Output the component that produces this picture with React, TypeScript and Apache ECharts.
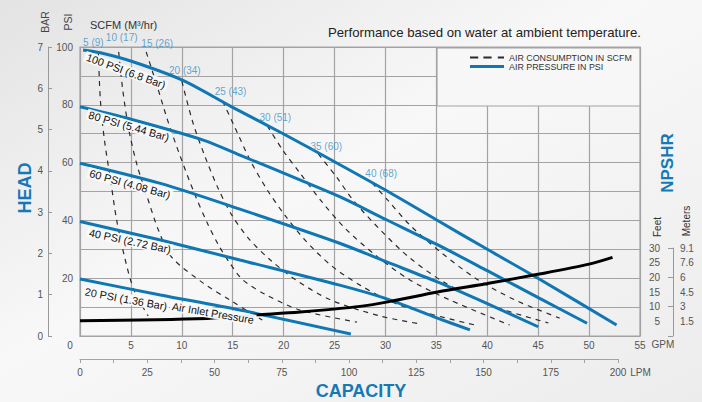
import React, { useEffect, useRef } from 'react';
import * as echarts from 'echarts';

// ---- Data (GPM, PSI) ----
const psi100 = [[0.3, 99.0], [2.0, 98.0], [5.2, 94.9], [10.0, 88.6], [14.9, 79.3], [20.0, 69.9], [25.0, 60.3], [30.0, 50.5], [35.0, 40.2], [40.0, 30.0], [45.1, 19.7], [52.7, 3.8]];
const psi80 = [[0, 79.3], [5, 75.0], [12.1, 67.8], [15.7, 62.6], [21.6, 54.0], [25.5, 48.2], [30, 40.4], [35.1, 31.6], [40, 22.6], [45.1, 13.1], [49.8, 4.4]];
const psi60 = [[0, 59.8], [7.9, 52.8], [15.7, 43.9], [25.5, 32.1], [30, 25.8], [35.1, 18.7], [40, 11.2], [45.0, 3.2]];
const psi40 = [[0, 39.6], [7.9, 33.2], [15.7, 26.3], [25.5, 17.6], [30, 13.0], [35.1, 6.2], [38.3, 2.1]];
const psi20 = [[0, 19.7], [7.9, 14.2], [15.7, 9.0], [26.6, 0.7]];
const pressureCurves = [psi100, psi80, psi60, psi40, psi20];

// air consumption (SCFM) lines, top point first
const scfm5 = [[1.8, 98.6], [2.0, 81.7], [2.4, 67.8], [3.0, 54.0], [3.6, 40.1], [4.4, 27.0], [5.3, 15.9], [6.7, 6.9]];
const scfm10 = [[3.8, 98.3], [4.2, 85.1], [4.8, 71.3], [5.6, 59.2], [6.6, 48.1], [7.7, 36.7], [9.0, 27.3], [12.1, 18.3], [14.7, 12.5], [17.9, 5.5]];
const scfm15 = [[6.5, 98.3], [7.6, 86.2], [8.6, 74.7], [9.8, 62.6], [11.3, 48.8], [12.5, 39.1], [13.6, 31.5], [14.7, 25.3], [16.0, 19.4], [18.3, 14.2], [21.6, 9.0], [27.2, 4.8]];
const scfm20 = [[10.0, 88.2], [11.1, 73.7], [12.3, 61.9], [13.5, 51.6], [14.9, 41.9], [16.7, 33.2], [18.7, 26.3], [21.2, 19.4], [24.6, 12.5], [29.5, 6.9], [33.4, 4.2]];
const scfm25 = [[14.0, 81.3], [15.2, 72.3], [16.7, 60.9], [18.4, 50.5], [20.1, 41.9], [22.1, 33.2], [24.6, 24.6], [27.5, 17.6], [31.4, 10.7], [38.8, 3.8]];
const scfm30 = [[18.4, 72.7], [19.9, 64.4], [21.6, 56.4], [23.6, 47.1], [26.0, 37.4], [29.0, 28.0], [32.4, 19.4], [36.3, 12.5], [42.2, 3.8]];
const scfm35 = [[23.4, 63.0], [25.2, 55.0], [26.8, 47.1], [29.5, 36.7], [32.4, 27.0], [35.9, 18.3], [40.3, 10.7], [46.0, 4.5]];
const scfm40 = [[28.7, 52.9], [30.2, 47.1], [32.4, 38.4], [35.4, 29.1], [38.8, 20.1], [42.7, 12.5], [47.1, 6.2]];
const airCurves = [scfm5, scfm10, scfm15, scfm20, scfm25, scfm30, scfm35, scfm40];
const airLabels = ['5 (9)', '10 (17)', '15 (26)', '20 (34)', '25 (43)', '30 (51)', '35 (60)', '40 (68)'];

// NPSHR (GPM, feet)
const npshr = [[0, 5.2], [12.5, 6.0], [17.4, 7.2], [21.6, 8.2], [27.5, 10.1], [30.5, 11.8], [35.1, 15.0], [40, 17.9], [45.1, 21.1], [50, 24.5], [52.3, 26.8]];

const feetTicks = [5, 10, 15, 20, 25, 30];
const meterTicks = ['1.5', '3', '4.5', '6', '7.6', '9.1'];
const bracketTicks = [0, 10, 20, 30];

// ---- styles ----
const FONT = '"Liberation Sans", Arial, Helvetica, sans-serif';
const GRID = '#a3a3a3';
const BLUE = '#0f77b3';
const LBLUE = '#3a90c6';
const TITLE = '#1679b6';
const AX = '#555';
const DASH = '#2b2b2b';
const airLabelOffsets = [[-5, 2], [3, -4], [11, 2], [3, 0], [8, 1], [8, 2], [8, 3], [9, 1]];

const curveTexts = [
  { text: '100 PSI (6.8 Bar)', x: 126, y: 71, a: 20 },
  { text: '80 PSI (5.44 Bar)', x: 129, y: 126, a: 16 },
  { text: '60 PSI (4.08 Bar)', x: 130, y: 184, a: 15.5 },
  { text: '40 PSI (2.72 Bar)', x: 130, y: 241, a: 12 },
  { text: '20 PSI (1.36 Bar)', x: 126, y: 299, a: 10.5 },
  { text: 'Air Inlet Pressure', x: 213, y: 313, a: 9.7 },
];

export default function App() {
  const ref = useRef<HTMLDivElement>(null);
  useEffect(() => {
    if (!ref.current) return;
    const chart = echarts.init(ref.current, undefined, { renderer: 'svg' });
    const series: any[] = [];
    pressureCurves.forEach((c) => {
      series.push({
        type: 'line', name: 'AIR PRESSURE IN PSI', xAxisIndex: 0, yAxisIndex: 0,
        data: c, smooth: 0.3, symbol: 'none', color: BLUE,
        lineStyle: { width: 3, color: BLUE }, z: 3,
      });
    });
    airCurves.forEach((c) => {
      series.push({
        type: 'line', name: 'AIR CONSUMPTION IN SCFM', xAxisIndex: 0, yAxisIndex: 0,
        data: c, smooth: 0.3, symbol: 'none', color: DASH,
        lineStyle: { width: 1.2, color: DASH, type: [5, 5] }, z: 2,
      });
    });
    series.push({
      type: 'line', name: 'NPSHR', xAxisIndex: 0, yAxisIndex: 2,
      data: npshr, smooth: 0.3, symbol: 'none', color: '#000',
      lineStyle: { width: 3, color: '#000' }, z: 3,
    });
    series.push({
      type: 'scatter', name: 'scfm labels', xAxisIndex: 0, yAxisIndex: 0,
      symbolSize: 1, itemStyle: { color: 'rgba(0,0,0,0)' }, z: 4,
      data: airCurves.map((c, i) => ({
        value: c[0],
        label: { show: true, position: 'top', formatter: airLabels[i], offset: airLabelOffsets[i], color: LBLUE, fontSize: 10, fontFamily: FONT },
      })),
    });

    const graphicEls: any[] = [
      { type: 'rect', shape: { x: 437, y: 48, width: 203, height: 58 }, style: { fill: '#f7f7f7', stroke: GRID, lineWidth: 1.2 }, z: 1 },
      { type: 'text', x: 641, y: 32, z: 5, style: { text: 'Performance based on water at ambient temperature.', align: 'right', verticalAlign: 'middle', fill: '#222', fontSize: 13.2, fontFamily: FONT } },
      { type: 'text', x: 45, y: 22, rotation: Math.PI / 2, z: 5, style: { text: 'BAR', align: 'center', verticalAlign: 'middle', fill: '#444', fontSize: 10.5, fontFamily: FONT } },
      { type: 'text', x: 68, y: 22, rotation: Math.PI / 2, z: 5, style: { text: 'PSI', align: 'center', verticalAlign: 'middle', fill: '#444', fontSize: 10.5, fontFamily: FONT } },
      { type: 'text', x: 90, y: 25, z: 5, style: { text: 'SCFM (M³/hr)', align: 'left', verticalAlign: 'middle', fill: '#333', fontSize: 11, fontFamily: FONT } },
      { type: 'text', x: 25, y: 188, rotation: Math.PI / 2, z: 5, style: { text: 'HEAD', align: 'center', verticalAlign: 'middle', fill: TITLE, fontSize: 18, fontWeight: 'bold', fontFamily: FONT } },
      { type: 'text', x: 667, y: 163, rotation: Math.PI / 2, z: 5, style: { text: 'NPSHR', align: 'center', verticalAlign: 'middle', fill: TITLE, fontSize: 17, fontWeight: 'bold', fontFamily: FONT } },
      { type: 'text', x: 361, y: 391, z: 5, style: { text: 'CAPACITY', align: 'center', verticalAlign: 'middle', fill: TITLE, fontSize: 18, fontWeight: 'bold', fontFamily: FONT } },
      { type: 'text', x: 657, y: 227, rotation: Math.PI / 2, z: 5, style: { text: 'Feet', align: 'center', verticalAlign: 'middle', fill: '#333', fontSize: 10, fontFamily: FONT } },
      { type: 'text', x: 686, y: 221, rotation: Math.PI / 2, z: 5, style: { text: 'Meters', align: 'center', verticalAlign: 'middle', fill: '#333', fontSize: 10, fontFamily: FONT } },
    ];
    curveTexts.forEach((t) => {
      graphicEls.push({
        type: 'text', x: t.x, y: t.y, rotation: -t.a * Math.PI / 180, z: 6,
        style: { text: t.text, align: 'center', verticalAlign: 'middle', fill: '#111', fontSize: 10.8, fontFamily: FONT, backgroundColor: 'rgba(250,250,250,0.95)', padding: [0, 2] },
      });
    });

    const option: any = {
      animation: false,
      backgroundColor: new echarts.graphic.LinearGradient(0, 0, 1, 1, [
        { offset: 0, color: '#e3e3e3' },
        { offset: 0.45, color: '#f8f8f8' },
        { offset: 1, color: '#ececec' },
      ]),
      textStyle: { fontFamily: FONT },
      grid: [
        { left: 80, right: 62, top: 47, bottom: 66, show: true, borderColor: GRID, borderWidth: 1.2, backgroundColor: 'transparent' },
        { left: 80, right: 84, top: 350, bottom: 43 },
        { left: 665, right: 29, top: 248, bottom: 66 },
      ],
      legend: {
        left: 470, top: 53, orient: 'vertical', itemWidth: 34, itemHeight: 3, itemGap: 0, padding: 0,
        selectedMode: false, z: 6, symbolKeepAspect: true,
        textStyle: { fontSize: 8.9, color: '#333', fontFamily: FONT },
        data: [
          { name: 'AIR CONSUMPTION IN SCFM', icon: 'path://M0,0H8V2H0Z M13,0H21V2H13Z M27,0H33V2H27Z' },
          { name: 'AIR PRESSURE IN PSI', icon: 'rect' },
        ],
      },
      xAxis: [
        {
          gridIndex: 0, type: 'value', min: 0, max: 55, interval: 5,
          axisLine: { show: true, lineStyle: { color: GRID, width: 1.2 } },
          axisTick: { show: false },
          axisLabel: {
            color: AX, fontSize: 10, margin: 4,
            formatter: (v: number) => (v === 0 ? '{z|0}' : String(v)),
            rich: { z: { color: AX, fontSize: 10, padding: [0, 20, 0, 0] } },
          },
          splitLine: { show: true, lineStyle: { color: GRID, width: 1.2 } },
          name: 'GPM', nameLocation: 'end', nameGap: 10,
          nameTextStyle: { color: AX, fontSize: 10, verticalAlign: 'top', padding: [3, 0, 0, 0] },
        },
        {
          gridIndex: 1, type: 'value', min: 0, max: 200, interval: 12.5,
          axisLine: { show: true, lineStyle: { color: GRID, width: 1.2 } },
          axisTick: { show: true, length: 4, lineStyle: { color: GRID } },
          axisLabel: { color: AX, fontSize: 10, margin: 8, formatter: (v: number) => (v % 25 === 0 ? String(v) : '') },
          splitLine: { show: false },
          name: 'LPM', nameLocation: 'end', nameGap: 10,
          nameTextStyle: { color: AX, fontSize: 10, verticalAlign: 'top', padding: [8, 0, 0, 0] },
        },
        { gridIndex: 2, type: 'value', min: 0, max: 1, show: false },
      ],
      yAxis: [
        {
          gridIndex: 0, type: 'value', min: 0, max: 100, interval: 10, position: 'left',
          axisLine: { show: false }, axisTick: { show: false },
          axisLabel: { color: AX, fontSize: 10, margin: 7, formatter: (v: number) => (v > 0 && v % 20 === 0 ? String(v) : '') },
          splitLine: { show: true, lineStyle: { color: GRID, width: 1.2 } },
        },
        {
          gridIndex: 0, type: 'value', min: 0, max: 7, interval: 1, position: 'left', offset: 32,
          axisLine: { show: true, lineStyle: { color: '#999', width: 1 } },
          axisTick: { show: true, inside: true, length: 4, lineStyle: { color: '#999' } },
          axisLabel: { color: AX, fontSize: 10, margin: 5 },
          splitLine: { show: false },
        },
        { gridIndex: 0, type: 'value', min: 0, max: 98.5, position: 'right', show: false },
        { gridIndex: 1, type: 'value', min: 0, max: 1, show: false },
        {
          gridIndex: 2, type: 'value', min: 0, max: 30, position: 'left',
          axisLine: { show: false }, axisTick: { show: false }, splitLine: { show: false },
          axisLabel: { color: AX, fontSize: 10, margin: 5, customValues: feetTicks },
        },
        {
          gridIndex: 2, type: 'value', min: 0, max: 30, position: 'right',
          axisLine: { show: true, lineStyle: { color: '#999', width: 1 } },
          axisTick: { show: true, inside: true, length: 5, customValues: bracketTicks, lineStyle: { color: '#999' } },
          splitLine: { show: false },
          axisLabel: {
            color: AX, fontSize: 10, margin: 7, customValues: feetTicks,
            formatter: (v: number) => meterTicks[feetTicks.indexOf(v)] ?? '',
          },
        },
      ],
      graphic: { elements: graphicEls },
      series,
    };
    chart.setOption(option);
    return () => chart.dispose();
  }, []);
  return <div ref={ref} style={{ position: 'fixed', left: 0, top: 0, width: 702, height: 402 }} />;
}
